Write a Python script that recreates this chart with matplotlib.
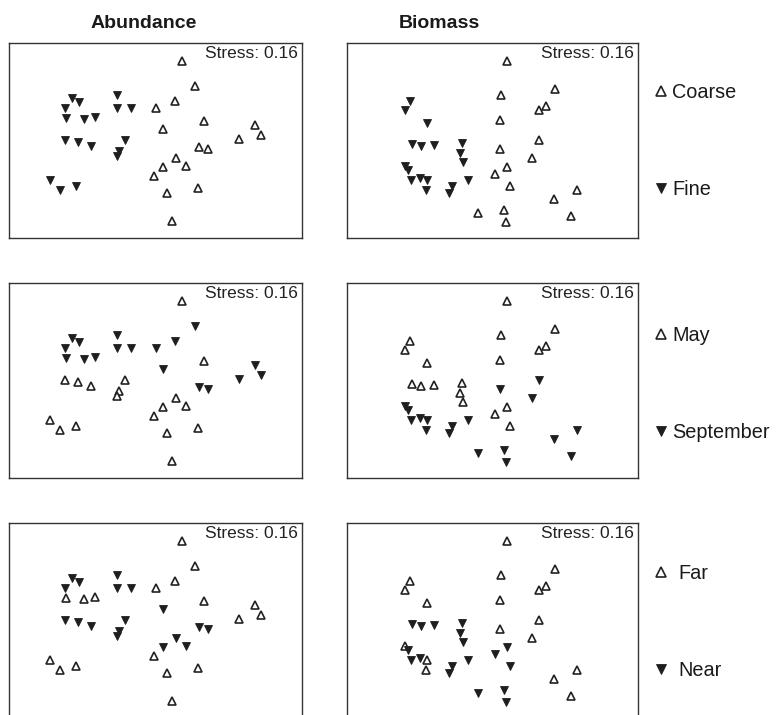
import matplotlib
matplotlib.use("Agg")
import matplotlib.pyplot as plt
from matplotlib.lines import Line2D

plt.rcParams['font.family'] = ['Liberation Sans', 'DejaVu Sans']

# ---------------- data: NMDS scores ----------------
# Abundance ordination: samples c1..c18 (coarse), f1..f18 (fine)
abund_x = [0.18, 0.27, 0.13, 0.00, 0.33, 0.05, 0.68, 0.72, 0.57, 0.30, 0.36, 0.14, 0.05, 0.21, -0.01, 0.29, 0.08, 0.11,
           -0.57, -0.52, -0.62, -0.61, -0.49, -0.41, -0.26, -0.26, -0.17, -0.62, -0.53, -0.44, -0.21, -0.25, -0.26, -0.72, -0.65, -0.54]
abund_y = [0.82, 0.56, 0.41, 0.33, 0.20, 0.12, 0.16, 0.06, 0.02, -0.07, -0.09, -0.18, -0.27, -0.26, -0.36, -0.49, -0.54, -0.83,
           0.44, 0.39, 0.33, 0.23, 0.22, 0.24, 0.47, 0.33, 0.33, 0.01, -0.02, -0.06, 0.01, -0.11, -0.16, -0.41, -0.51, -0.47]
abund_substrate = ['Coarse'] * 18 + ['Fine'] * 18
abund_month = ['May', 'September', 'September', 'September', 'May', 'September', 'September', 'September', 'September',
               'September', 'September', 'May', 'May', 'May', 'May', 'May', 'May', 'May',
               'September', 'September', 'September', 'September', 'September', 'September', 'September', 'September', 'September',
               'May', 'May', 'May', 'May', 'May', 'May', 'May', 'May', 'May']
abund_distance = ['Far', 'Far', 'Far', 'Far', 'Far', 'Near', 'Far', 'Far', 'Far',
                  'Near', 'Near', 'Near', 'Near', 'Near', 'Far', 'Far', 'Far', 'Far',
                  'Near', 'Near', 'Near', 'Far', 'Far', 'Far', 'Near', 'Near', 'Near',
                  'Near', 'Near', 'Near', 'Near', 'Near', 'Near', 'Far', 'Far', 'Far']

# Biomass ordination: samples b1..b18 (coarse), f1..f18 (fine)
biom_x = [0.10, 0.43, 0.06, 0.37, 0.32, 0.05, 0.32, 0.05, 0.27, 0.10, 0.02, 0.12, 0.58, 0.42, -0.10, 0.08, 0.09, 0.54,
          -0.57, -0.60, -0.45, -0.55, -0.49, -0.40, -0.21, -0.22, -0.20, -0.60, -0.58, -0.56, -0.50, -0.45, -0.46, -0.28, -0.30, -0.17]
biom_y = [0.82, 0.53, 0.47, 0.35, 0.31, 0.21, 0.01, -0.09, -0.18, -0.27, -0.34, -0.47, -0.51, -0.60, -0.74, -0.71, -0.84, -0.77,
          0.41, 0.31, 0.18, -0.04, -0.06, -0.05, -0.03, -0.13, -0.22, -0.26, -0.30, -0.40, -0.38, -0.40, -0.51, -0.47, -0.54, -0.41]
biom_substrate = ['Coarse'] * 18 + ['Fine'] * 18
biom_month = ['May'] * 6 + ['September'] * 3 + ['May'] * 3 + ['September'] * 6 + \
             ['May'] * 9 + ['September'] * 9
biom_distance = ['Far'] * 9 + ['Near'] * 3 + ['Far', 'Far', 'Near', 'Near', 'Near', 'Far'] + \
                ['Far', 'Far', 'Far', 'Near', 'Near', 'Near', 'Near', 'Near', 'Near',
                 'Far', 'Near', 'Near', 'Near', 'Far', 'Far', 'Near', 'Near', 'Near']

column_titles = ['Abundance', 'Biomass']
stress_values = [0.16, 0.16]
factor_levels = [('Coarse', 'Fine'), ('May', 'September'), ('Far', 'Near')]

columns = [
    (abund_x, abund_y, [abund_substrate, abund_month, abund_distance]),
    (biom_x, biom_y, [biom_substrate, biom_month, biom_distance]),
]

# ---------------- figure ----------------
W, H = 779, 715
fig = plt.figure(figsize=(W / 100, H / 100), dpi=100)

col_px = [(9, 302), (347, 638)]
row_px = [(43, 238), (283, 478), (523, 718)]

edge = '#222222'
fill = '#1e1e1e'
ms = 5.8


def style(level_idx):
    if level_idx == 0:
        return dict(marker='^', markerfacecolor='white', markeredgecolor=edge, markeredgewidth=1.2)
    return dict(marker='v', markerfacecolor=fill, markeredgecolor=fill, markeredgewidth=0.6)


for ci, (xs, ys, groupings) in enumerate(columns):
    for ri, groups in enumerate(groupings):
        x0, x1 = col_px[ci]
        y0, y1 = row_px[ri]
        ax = fig.add_axes([x0 / W, 1 - y1 / H, (x1 - x0) / W, (y1 - y0) / H])
        for li, level in enumerate(factor_levels[ri]):
            px = [x for x, g in zip(xs, groups) if g == level]
            py = [y for y, g in zip(ys, groups) if g == level]
            ax.plot(px, py, linestyle='none', markersize=ms, **style(li))
        ax.set_xlim(-1, 1)
        ax.set_ylim(-1, 1)
        ax.set_xticks([])
        ax.set_yticks([])
        for sp in ax.spines.values():
            sp.set_linewidth(1.0)
            sp.set_color('#333333')
        ax.text(0.985, 0.985, f'Stress: {stress_values[ci]:.2f}', transform=ax.transAxes,
                ha='right', va='top', fontsize=12.5, color='#222222')

# column titles
title_x = [143.5, 439]
for t, tx in zip(column_titles, title_x):
    fig.text(tx / W, 1 - 28 / H, t, ha='center', va='baseline', fontsize=14, fontweight='bold',
             color='#1a1a1a')

# legends
legend_centers = [141, 384, 622]
legend_pads = [0.25, 0.25, 0.6]
for ri, levels in enumerate(factor_levels):
    handles = [Line2D([], [], linestyle='none', markersize=6.8, **style(li)) for li in range(2)]
    fig.legend(handles, list(levels), loc='center left',
               bbox_to_anchor=(655 / W, 1 - legend_centers[ri] / H),
               frameon=False, fontsize=14.3, handlelength=0.6, handletextpad=legend_pads[ri],
               labelspacing=3.9, borderpad=0, borderaxespad=0, labelcolor='#1a1a1a')

fig.savefig('out.png', dpi=100)
